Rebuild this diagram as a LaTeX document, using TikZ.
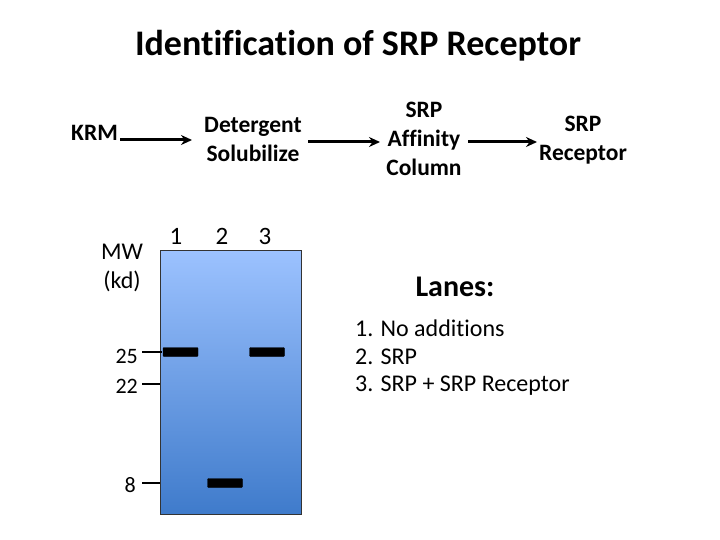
\documentclass[tikz,border=0pt]{standalone}
\usepackage{fontspec}
\setmainfont{Carlito}[Ligatures={TeX,NoCommon}]
\usetikzlibrary{arrows.meta}
\definecolor{geltop}{HTML}{9CC2FF}
\definecolor{gelbot}{HTML}{3F7BCB}
\begin{document}
\begin{tikzpicture}[x=1pt,y=-1pt,
  flow/.style={font=\bfseries\fontsize{23.5}{29}\selectfont, align=center, inner sep=0pt},
  plain/.style={font=\fontsize{24}{29}\selectfont, inner sep=0pt},
  arr/.style={-{Stealth[length=11pt,width=10pt]}, line width=3pt},
  band/.style={fill=black, draw=black, rounded corners=0.8pt},
  tick/.style={line width=2.5pt}]
\useasboundingbox (0,0) rectangle (720,540);
% title
\node[font=\bfseries\fontsize{36}{40}\selectfont, inner sep=0pt] (title) at (358,46) {Identification of SRP Receptor};
% flow
\node[flow, anchor=east] (krm) at (118,133) {KRM};
\node[flow] (det) at (253,139) {Detergent\\Solubilize};
\node[flow] (aff) at (424,139) {SRP\\Affinity\\Column};
\node[flow] (rec) at (583,140) {SRP\\Receptor};
\coordinate (a1s) at (120,140); \coordinate (a1e) at (192,140);
\coordinate (a2s) at (308,142); \coordinate (a2e) at (380,142);
\coordinate (a3s) at (468,142); \coordinate (a3e) at (537,142);
\draw[arr] (a1s) -- (a1e);
\draw[arr] (a2s) -- (a2e);
\draw[arr] (a3s) -- (a3e);
% gel
\shade[top color=geltop, bottom color=gelbot] (160,250) rectangle (301,514);
\node[draw=black!80, line width=0.8pt, minimum width=141pt, minimum height=264pt, inner sep=0pt, anchor=north west] (gel) at (160,250) {};
\node[band, minimum width=35pt, minimum height=9pt, inner sep=0pt] (b1) at (180.5,352) {};
\node[band, minimum width=35pt, minimum height=9pt, inner sep=0pt] (b3) at (267,352) {};
\node[band, minimum width=35pt, minimum height=9pt, inner sep=0pt] (b2) at (225,483) {};
% lane numbers
\node[plain, font=\fontsize{25}{28}\selectfont] (l1) at (176,236) {1};
\node[plain, font=\fontsize{25}{28}\selectfont] (l2) at (222,236) {2};
\node[plain, font=\fontsize{25}{28}\selectfont] (l3) at (265,236) {3};
% MW labels
\node[plain, align=center] (mw) at (122,268) {MW\\(kd)};
\node[plain, anchor=east, font=\fontsize{22}{24}\selectfont] (m25) at (138,356) {25};
\node[plain, anchor=east, font=\fontsize{22}{24}\selectfont] (m22) at (138,386) {22};
\node[plain, anchor=east, font=\fontsize{22}{24}\selectfont] (m8) at (136,485) {8};
\coordinate (t25) at (162,352); \coordinate (t22) at (160,384); \coordinate (t8) at (160,483);
\draw[tick] (142,352) -- (t25);
\draw[tick] (142,384) -- (t22);
\draw[tick] (142,483) -- (t8);
% lanes legend
\node[font=\bfseries\fontsize{30}{34}\selectfont, inner sep=0pt] (lanes) at (455,287) {Lanes:};
\node[plain, anchor=west] (i1) at (355,328) {1.\hspace{0.3em}No additions};
\node[plain, anchor=west] (i2) at (355,357) {2.\hspace{0.3em}SRP};
\node[plain, anchor=west] (i3) at (355,386) {3.\hspace{0.3em}SRP + SRP Receptor};
\end{tikzpicture}
\end{document}
